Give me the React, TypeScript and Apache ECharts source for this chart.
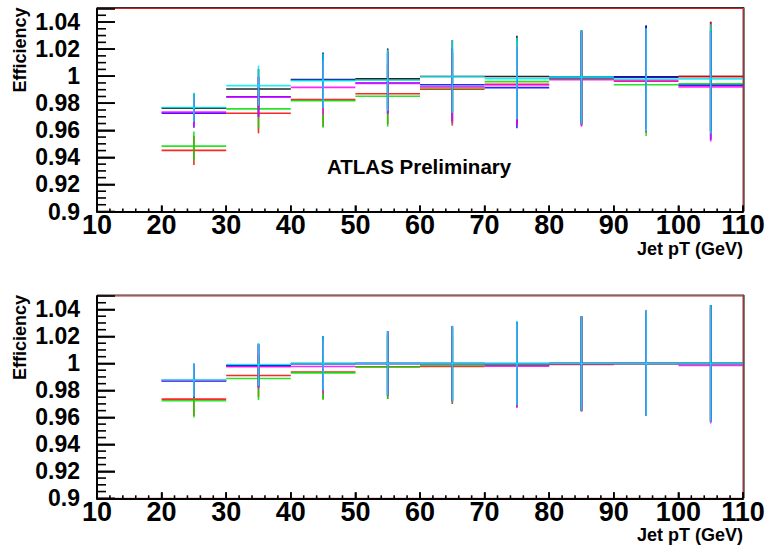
import React, { useEffect, useRef } from "react";
import * as echarts from "echarts";

// Bin edges (Jet pT, GeV)
const binEdges = [20, 30, 40, 50, 60, 70, 80, 90, 100, 110];
// Axis tick values
const xMajorTicks = [10, 20, 30, 40, 50, 60, 70, 80, 90, 100, 110];
const yMajorTicks = [0.9, 0.92, 0.94, 0.96, 0.98, 1.0, 1.02, 1.04];
const xMinorStep = 2;
const yMinorStep = 0.005;
const yLabelMax = 1.04; // highest labelled tick (axis runs to 1.05)

// Top panel efficiencies
const topBlack = [0.9764, 0.9905, 0.9975, 0.998, 0.9998, 0.9998, 0.9994, 0.9996, 0.9998];
const topRed = [0.9452, 0.9726, 0.9827, 0.987, 0.9903, 0.994, 0.9982, 0.9962, 0.9998];
const topGreen = [0.9483, 0.9758, 0.9818, 0.9852, 0.9913, 0.996, 0.9985, 0.9937, 0.9943];
const topBlue = [0.9727, 0.9848, 0.9972, 0.995, 0.9937, 0.9915, 0.999, 0.999, 0.9933];
const topMagenta = [0.9734, 0.9844, 0.9917, 0.9947, 0.9922, 0.9935, 0.9974, 0.9967, 0.9921];
const topCyan = [0.9769, 0.993, 0.9967, 0.997, 0.9997, 0.9982, 0.9993, 0.9975, 0.998];
const topErr = [0.0108, 0.0148, 0.02, 0.0225, 0.0268, 0.03, 0.0347, 0.038, 0.0404];

// Bottom panel efficiencies
const botBlack = [0.9874, 0.9982, 1.0, 1.0, 1.0, 0.9988, 1.0, 1.0, 1.0];
const botRed = [0.9735, 0.991, 0.9937, 0.9975, 0.9977, 0.999, 0.9992, 1.0, 1.0];
const botGreen = [0.9723, 0.9888, 0.993, 0.9973, 0.9985, 0.9993, 1.0, 1.0, 1.0];
const botBlue = [0.987, 0.9985, 0.9998, 1.0, 1.0, 1.0, 1.0, 1.0, 1.0];
const botMagenta = [0.9873, 0.9975, 0.9977, 1.0, 0.9996, 0.998, 1.0, 1.0, 0.9985];
const botCyan = [0.9877, 0.9992, 1.0, 1.0, 1.0, 1.0, 1.0, 1.0, 1.0];
const botErr = [0.0124, 0.016, 0.0201, 0.0237, 0.0278, 0.031, 0.035, 0.039, 0.043];

const seriesNames = ["black", "red", "green", "blue", "magenta", "cyan"];
const seriesColors = ["#000000", "#ff0000", "#00e000", "#0000ff", "#ff00ff", "#00e8f0"];

const FONT = "'Liberation Sans', Arial, Helvetica, sans-serif";
const NARROW = "'Liberation Sans Narrow', 'Arial Narrow', 'Liberation Sans', sans-serif";

const GRIDS = [
  { left: 97, top: 8.5, width: 646, height: 203 },
  { left: 97, top: 296, width: 646, height: 202.3 },
];

const X_MIN = 10;
const X_MAX = 110;
const Y_MIN = 0.9;
const Y_MAX = 1.05;

function buildData(vals: number[], errs: number[]) {
  return vals.map((v, i) => [binEdges[i], binEdges[i + 1], v, errs[i]]);
}

function fmt(v: number) {
  return String(Number(v.toFixed(2)));
}

function minorValues(lo: number, hi: number, step: number, majors: number[]) {
  const out: number[] = [];
  const n = Math.round((hi - lo) / step);
  for (let i = 1; i < n; i++) {
    const v = Number((lo + i * step).toFixed(6));
    if (!majors.some((m) => Math.abs(m - v) < 1e-9)) out.push(v);
  }
  return out;
}

export default function App() {
  const ref = useRef<HTMLDivElement>(null);
  useEffect(() => {
    if (!ref.current) return;
    const chart = echarts.init(ref.current, undefined, { renderer: "svg" });

    const panels = [
      [topBlack, topRed, topGreen, topBlue, topMagenta, topCyan, topErr],
      [botBlack, botRed, botGreen, botBlue, botMagenta, botCyan, botErr],
    ];

    const series: any[] = [];
    panels.forEach((p, gi) => {
      const errs = p[6];
      for (let s = 0; s < 6; s++) {
        const color = seriesColors[s];
        series.push({
          type: "custom",
          name: seriesNames[s] + (gi === 0 ? " (top)" : " (bottom)"),
          xAxisIndex: gi,
          yAxisIndex: gi,
          data: buildData(p[s], errs),
          encode: { x: [0, 1], y: 2 },
          renderItem: (params: any, api: any) => {
            const xl = api.value(0);
            const xh = api.value(1);
            const v = api.value(2);
            const e = api.value(3);
            const c = (xl + xh) / 2;
            const a = api.coord([xl, v]);
            const b = api.coord([xh, v]);
            const t = api.coord([c, v + e]);
            const d = api.coord([c, v - e]);
            const style = { stroke: color, lineWidth: 1.6, opacity: 0.85 };
            return {
              type: "group",
              children: [
                { type: "line", shape: { x1: a[0], y1: a[1], x2: b[0], y2: b[1] }, style },
                { type: "line", shape: { x1: t[0], y1: t[1], x2: d[0], y2: d[1] }, style },
              ],
            };
          },
        });
      }
    });

    const grid = GRIDS.map((g) => ({ ...g, show: true, borderColor: "#d42020" }));

    const xAxis = GRIDS.map((_, gi) => ({
      type: "value",
      gridIndex: gi,
      min: X_MIN,
      max: X_MAX,
      interval: 10,
      axisLine: { show: true, lineStyle: { color: "#000", width: 2 } },
      axisTick: { show: true, inside: true, length: 6, lineStyle: { color: "#000", width: 1.6 } },
      splitLine: { show: false },
      axisLabel: {
        color: "#000",
        fontFamily: NARROW,
        fontWeight: "bold",
        fontSize: 27,
        margin: 0,
        formatter: (v: number) => fmt(v),
      },
    }));

    const yAxis = GRIDS.map((_, gi) => ({
      type: "value",
      gridIndex: gi,
      min: Y_MIN,
      max: Y_MAX,
      interval: 0.02,
      axisLine: { show: true, lineStyle: { color: "#000", width: 2 } },
      axisTick: { show: true, inside: true, length: 18, lineStyle: { color: "#000", width: 1.6 } },
      splitLine: { show: false },
      axisLabel: {
        color: "#000",
        fontFamily: FONT,
        fontWeight: "bold",
        fontSize: 23,
        margin: 17,
        padding: [7, 0, 0, 0],
        formatter: (v: number) => (v > yLabelMax + 1e-6 ? "" : fmt(v)),
      },
    }));

    chart.setOption({
      animation: false,
      backgroundColor: "#fff",
      grid,
      xAxis,
      yAxis,
      series,
    });

    const graphic: any[] = [];
    const xMinor = minorValues(X_MIN, X_MAX, xMinorStep, xMajorTicks);
    const yMinor = minorValues(Y_MIN, Y_MAX, yMinorStep, yMajorTicks);
    const tickLine = (x1: number, y1: number, x2: number, y2: number) => ({
      type: "line",
      silent: true,
      z: 50,
      shape: { x1, y1, x2, y2 },
      style: { stroke: "#000", lineWidth: 1.6 },
    });

    GRIDS.forEach((g, gi) => {
      // tick marks placed through the axes' own scales
      const xt = (v: number, len: number) => {
        const pt = chart.convertToPixel({ gridIndex: gi }, [v, Y_MIN]) as number[];
        graphic.push(tickLine(pt[0], pt[1], pt[0], pt[1] - len));
      };
      const yt = (v: number, len: number) => {
        const pt = chart.convertToPixel({ gridIndex: gi }, [X_MIN, v]) as number[];
        graphic.push(tickLine(pt[0], pt[1], pt[0] + len, pt[1]));
      };
      xMajorTicks.forEach((v) => xt(v, 6));
      xMinor.forEach((v) => xt(v, 3));
      yMajorTicks.forEach((v) => yt(v, 18));
      yMinor.forEach((v) => yt(v, 9));

      // outer dark frame lines (top & right)
      graphic.push({
        type: "line",
        silent: true,
        shape: { x1: g.left, y1: g.top - 1, x2: g.left + g.width + 1, y2: g.top - 1 },
        style: { stroke: "#333", lineWidth: 1 },
      });
      graphic.push({
        type: "line",
        silent: true,
        shape: { x1: g.left + g.width + 1, y1: g.top - 1, x2: g.left + g.width + 1, y2: g.top + g.height },
        style: { stroke: "#000", lineWidth: 1 },
      });
      graphic.push({
        type: "text",
        silent: true,
        x: 20,
        y: g.top - 1,
        rotation: Math.PI / 2,
        style: {
          text: "Efficiency",
          fill: "#000",
          font: `bold 18px ${FONT}`,
          align: "right",
          verticalAlign: "middle",
        },
      });
      graphic.push({
        type: "text",
        silent: true,
        x: g.left + g.width,
        y: g.top + g.height + 37,
        style: {
          text: "Jet pT (GeV)",
          fill: "#000",
          font: `bold 18px ${FONT}`,
          align: "right",
          verticalAlign: "middle",
        },
      });
    });
    graphic.push({
      type: "text",
      silent: true,
      x: 327,
      y: 166,
      style: {
        text: "ATLAS Preliminary",
        fill: "#000",
        font: `bold 20.5px ${FONT}`,
        align: "left",
        verticalAlign: "middle",
      },
    });
    chart.setOption({ graphic });

    return () => chart.dispose();
  }, []);

  return (
    <div
      ref={ref}
      style={{ position: "absolute", left: 0, top: 0, width: 770, height: 548 }}
    />
  );
}
